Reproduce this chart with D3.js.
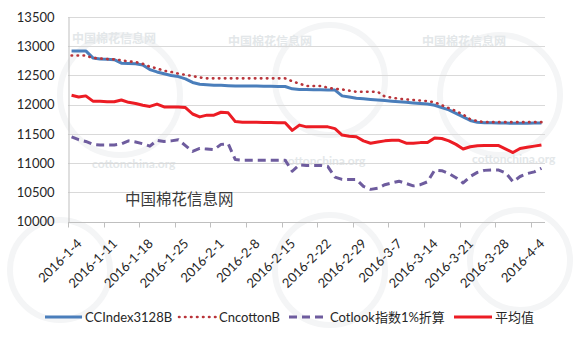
<!DOCTYPE html>
<html>
<head>
<meta charset="utf-8">
<script src="https://cdn.jsdelivr.net/npm/d3@7"></script>
<style>
  html, body { margin: 0; padding: 0; background: #fff; }
  svg { display: block; font-family: Lato, "Noto Sans CJK SC", sans-serif; }
</style>
</head>
<body>
<svg id="chart" width="576" height="342"></svg>
<script>
// Trading days, 2016-1-4 .. 2016-4-5
const dates = [
  "2016-1-4","2016-1-5","2016-1-6","2016-1-7","2016-1-8",
  "2016-1-11","2016-1-12","2016-1-13","2016-1-14","2016-1-15",
  "2016-1-18","2016-1-19","2016-1-20","2016-1-21","2016-1-22",
  "2016-1-25","2016-1-26","2016-1-27","2016-1-28","2016-1-29",
  "2016-2-1","2016-2-2","2016-2-3","2016-2-4","2016-2-5",
  "2016-2-8","2016-2-9","2016-2-10","2016-2-11","2016-2-12",
  "2016-2-15","2016-2-16","2016-2-17","2016-2-18","2016-2-19",
  "2016-2-22","2016-2-23","2016-2-24","2016-2-25","2016-2-26",
  "2016-2-29","2016-3-1","2016-3-2","2016-3-3","2016-3-4",
  "2016-3-7","2016-3-8","2016-3-9","2016-3-10","2016-3-11",
  "2016-3-14","2016-3-15","2016-3-16","2016-3-17","2016-3-18",
  "2016-3-21","2016-3-22","2016-3-23","2016-3-24","2016-3-25",
  "2016-3-28","2016-3-29","2016-3-30","2016-3-31","2016-4-1",
  "2016-4-4","2016-4-5"
];

// Week-start labels shown on the category axis
const tickLabels = [
  "2016-1-4","2016-1-11","2016-1-18","2016-1-25","2016-2-1","2016-2-8","2016-2-15",
  "2016-2-22","2016-2-29","2016-3-7","2016-3-14","2016-3-21","2016-3-28","2016-4-4"
];

const yTicks = [10000, 10500, 11000, 11500, 12000, 12500, 13000, 13500];

const ccIndex = [
  12920,12920,12920,12800,12780,12775,12770,12710,12705,12700,
  12680,12600,12560,12530,12500,12480,12440,12380,12350,12340,
  12330,12330,12325,12320,12320,12320,12318,12316,12314,12312,
  12310,12270,12260,12258,12256,12254,12252,12250,12150,12130,
  12110,12100,12090,12080,12070,12060,12050,12040,12030,12020,
  12010,11990,11950,11910,11850,11790,11730,11700,11690,11688,
  11686,11684,11682,11682,11682,11684,11686
];

const cncotton = [
  12840,12840,12840,12800,12790,12780,12775,12760,12740,12730,
  12700,12650,12620,12580,12560,12530,12510,12490,12465,12450,
  12450,12450,12450,12450,12450,12450,12450,12450,12450,12450,
  12450,12400,12360,12320,12320,12320,12290,12270,12260,12240,
  12220,12220,12220,12220,12140,12120,12100,12090,12080,12070,
  12060,12040,11990,11940,11890,11830,11750,11720,11700,11700,
  11700,11700,11700,11700,11700,11700,11700
];

const cotlook = [
  11450,11400,11370,11320,11310,11310,11310,11330,11380,11360,
  11330,11290,11390,11370,11380,11400,11300,11200,11250,11240,
  11230,11320,11330,11060,11050,11050,11050,11050,11050,11050,
  11050,10860,10970,10960,10960,10960,10940,10760,10720,10720,
  10720,10600,10550,10570,10630,10660,10690,10650,10610,10630,
  10680,10880,10870,10820,10750,10660,10770,10840,10875,10880,
  10880,10830,10680,10770,10820,10850,10910
];

const average = [
  12160,12130,12150,12060,12060,12050,12050,12080,12040,12020,
  11990,11970,12010,11960,11960,11960,11950,11840,11790,11820,
  11820,11870,11860,11710,11700,11700,11698,11696,11694,11692,
  11690,11560,11650,11620,11620,11620,11620,11590,11480,11460,
  11450,11380,11340,11360,11380,11390,11390,11340,11340,11350,
  11350,11430,11420,11380,11320,11240,11280,11295,11300,11300,
  11300,11240,11180,11250,11270,11290,11310
];

const seriesNames = ["CCIndex3128B", "CncottonB", "Cotlook指数1%折算", "平均值"];
const seriesData = [ccIndex, cncotton, cotlook, average];
const seriesColors = ["#4a7ebb", "#b9343a", "#6e5c9e", "#ec1c24"];
const seriesDash = [null, "0.5 5.5", "8 5", null];
const seriesWidth = [3, 2.6, 3, 3];

const svg = d3.select("#chart");
const plot = { left: 68, right: 545, top: 17, bottom: 221.5 };

const x = d3.scaleBand().domain(dates).range([plot.left, plot.right]).padding(0);
const y = d3.scaleLinear().domain([10000, 13500]).range([plot.bottom, plot.top]);

// faint background watermarks
const wm = svg.append("g").attr("fill", "none").attr("stroke", "#f4f5f6").attr("stroke-width", 6);
[[120, 95, 60], [330, 80, 55], [500, 95, 60], [60, 270, 50], [330, 270, 55], [520, 260, 50]].forEach(([cx, cy, r]) => {
  wm.append("circle").attr("cx", cx).attr("cy", cy).attr("r", r);
});
const wmText = svg.append("g").attr("fill", "#e3e7e9").attr("font-weight", "bold");
[[72, 43], [228, 46], [422, 46]].forEach(([tx, ty]) => {
  wmText.append("text").attr("x", tx).attr("y", ty).attr("font-size", 12).text("中国棉花信息网");
});
[[92, 168], [282, 165], [472, 163]].forEach(([tx, ty]) => {
  wmText.append("text").attr("x", tx).attr("y", ty).attr("font-size", 12).text("cottonchina.org");
});

// horizontal gridlines
svg.append("g")
  .selectAll("line")
  .data(yTicks.slice(1))
  .join("line")
  .attr("x1", plot.left).attr("x2", plot.right)
  .attr("y1", d => Math.round(y(d)) + 0.5).attr("y2", d => Math.round(y(d)) + 0.5)
  .attr("stroke", "#d9d9d9").attr("stroke-width", 1);

// y axis
const yAxis = svg.append("g")
  .attr("transform", `translate(${plot.left + 0.5},0)`)
  .call(d3.axisLeft(y).tickValues(yTicks).tickSize(0).tickPadding(14).tickFormat(d3.format("d")));
yAxis.select(".domain").attr("stroke", "#bfbfbf");
yAxis.selectAll("text").attr("font-size", 13).attr("fill", "#262626").attr("font-family", "Lato, sans-serif");

// category axis: ticks at week boundaries, labels at week starts
const weekStarts = dates.filter((d, i) => i % 5 === 0);
const xAxisG = svg.append("g").attr("transform", `translate(0,${Math.round(plot.bottom) + 0.5})`);
xAxisG.append("line").attr("x1", plot.left).attr("x2", plot.right).attr("stroke", "#bfbfbf");
xAxisG.selectAll("line.tick")
  .data(weekStarts)
  .join("line")
  .attr("class", "tick")
  .attr("x1", d => Math.round(x(d)) + 0.5).attr("x2", d => Math.round(x(d)) + 0.5)
  .attr("y1", 0).attr("y2", 5)
  .attr("stroke", "#bfbfbf");
xAxisG.selectAll("text")
  .data(tickLabels)
  .join("text")
  .attr("transform", d => `translate(${x(d) + x.bandwidth() / 2 + 11},${22}) rotate(-45)`)
  .attr("text-anchor", "end")
  .attr("font-size", 13)
  .attr("fill", "#262626")
  .text(d => d);

// series lines
const line = d3.line()
  .x((d, i) => x(dates[i]) + x.bandwidth() / 2)
  .y(d => y(d));

// draw order: Cotlook, average, CCIndex, Cncotton (dots on top)
[2, 3, 0, 1].forEach(k => {
  svg.append("path")
    .datum(seriesData[k])
    .attr("fill", "none")
    .attr("stroke", seriesColors[k])
    .attr("stroke-width", seriesWidth[k])
    .attr("stroke-linejoin", "round")
    .attr("stroke-linecap", k === 1 ? "round" : "butt")
    .attr("stroke-dasharray", seriesDash[k])
    .attr("d", line);
});

// chart caption inside the plot
svg.append("text")
  .attr("x", 125).attr("y", 205)
  .attr("font-size", 15.5)
  .attr("fill", "#3a3a3a")
  .attr("font-family", "'Noto Sans CJK SC', sans-serif")
  .text("中国棉花信息网");

// legend
const legendItems = [
  { k: 0, x0: 45, x1: 82, tx: 85 },
  { k: 1, x0: 179, x1: 217, tx: 219 },
  { k: 2, x0: 289, x1: 323, tx: 330 },
  { k: 3, x0: 454, x1: 492, tx: 495 }
];
const legend = svg.append("g").attr("transform", "translate(0,317)");
legendItems.forEach(it => {
  legend.append("line")
    .attr("x1", it.x0).attr("x2", it.x1).attr("y1", 0).attr("y2", 0)
    .attr("stroke", seriesColors[it.k])
    .attr("stroke-width", seriesWidth[it.k])
    .attr("stroke-linecap", it.k === 1 ? "round" : "butt")
    .attr("stroke-dasharray", seriesDash[it.k]);
  legend.append("text")
    .attr("x", it.tx).attr("y", 0).attr("dy", "0.36em")
    .attr("font-size", 13)
    .attr("fill", "#262626")
    .text(seriesNames[it.k]);
});
</script>
</body>
</html>
